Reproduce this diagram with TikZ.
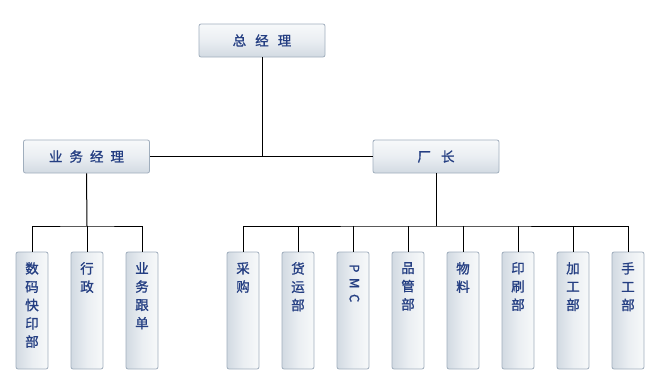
\documentclass[tikz,border=0pt]{standalone}
\usepackage{fontspec}
\newfontfamily\cjk{Noto Sans CJK SC}[FakeBold=1.2]
\definecolor{txtblue}{RGB}{36,62,130}
\definecolor{bordergray}{RGB}{160,174,189}
\definecolor{shadeA}{RGB}{210,218,226}
\definecolor{shadeB}{RGB}{234,238,242}
\definecolor{shadeC}{RGB}{247,249,250}
\tikzset{
  hbox/.style={draw=bordergray, rounded corners=2pt, line width=0.8pt,
    top color=shadeC, bottom color=shadeA, middle color=shadeB,
    minimum width=126pt, minimum height=33pt, inner sep=0pt,
    font=\cjk\fontsize{13.5}{16}\selectfont, text=txtblue},
  vbox/.style={draw=bordergray, rounded corners=2pt, line width=0.8pt,
    left color=shadeA, right color=shadeC, middle color=shadeB,
    minimum width=32pt, minimum height=117pt, inner sep=0pt},
  vtext/.style={anchor=north, align=center, inner sep=0pt,
    font=\cjk\fontsize{13.5}{18.3}\selectfont, text=txtblue},
  conn/.style={line width=1pt, black}
}
\begin{document}
\begin{tikzpicture}[x=1pt,y=-1pt]
\useasboundingbox (0,0) rectangle (660,389);
% top level
\node[hbox] (gm) at (262,40.5) {总\hspace{9pt}经\hspace{9pt}理};
\node[hbox] (bm) at (86.5,156.5) {业\hspace{7pt}务\hspace{7pt}经\hspace{7pt}理};
\node[hbox] (fm) at (436,156.5) {厂\hspace{10pt}长};
\coordinate (j0) at (262,157);
\draw[conn] (gm.south) -- (j0);
\draw[conn] (bm.east) -- (fm.west);
% left branch
\foreach \n/\x in {l1/32,l2/87,l3/142}{
  \node[vbox] (\n) at (\x,310.5) {};
}
\node[vtext] at (32,262) {数\\码\\快\\印\\部};
\node[vtext] at (87,262) {行\\政};
\node[vtext] at (142,262) {业\\务\\跟\\单};
\coordinate (jl) at (87,226);
\draw[conn] (bm.south) -- (jl);
\draw[conn] (l1.north) |- (jl) -| (l3.north);
\draw[conn] (jl) -- (l2.north);
% right branch
\foreach \n/\x in {r1/243,r2/298,r3/353,r4/408,r5/463,r6/518,r7/573,r8/628}{
  \node[vbox] (\n) at (\x,310.5) {};
}
\node[vtext] at (243,262) {采\\购};
\node[vtext] at (298,262) {货\\运\\部};
\node[anchor=north west, inner sep=0pt, rotate=-90, font=\cjk\fontsize{13}{16}\selectfont, text=txtblue] at (359.5,264) {P\hspace{5.5pt}M\hspace{5.5pt}C};
\node[vtext] at (408,262) {品\\管\\部};
\node[vtext] at (463,262) {物\\料};
\node[vtext] at (518,262) {印\\刷\\部};
\node[vtext] at (573,262) {加\\工\\部};
\node[vtext] at (628,262) {手\\工\\部};
\coordinate (jr) at (436,226);
\draw[conn] (fm.south) -- (jr);
\draw[conn] (r1.north) |- (jr) -| (r8.north);
\foreach \n in {r2,r3,r4,r5,r6,r7}{
  \draw[conn] (\n.north) -- (\n.north |- jr);
}
\end{tikzpicture}
\end{document}
